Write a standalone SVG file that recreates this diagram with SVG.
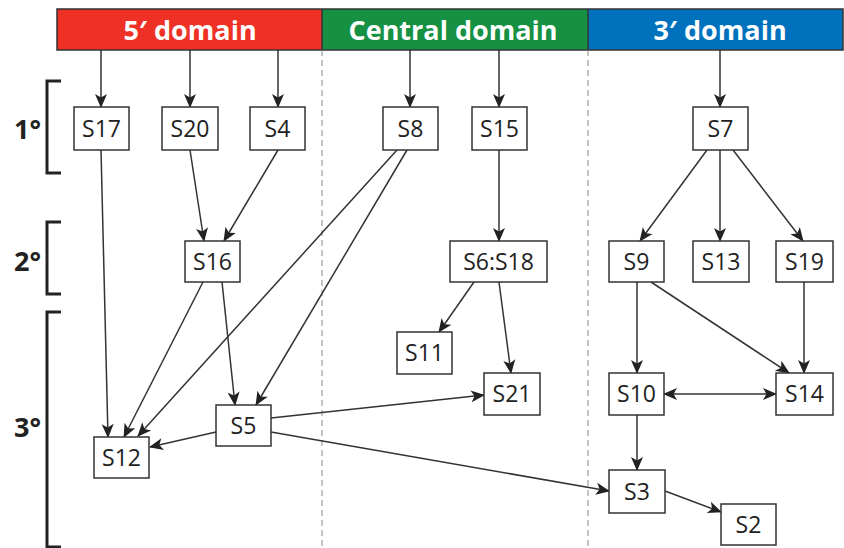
<svg xmlns="http://www.w3.org/2000/svg" width="844" height="548" viewBox="0 0 844 548">
<style>
.box{fill:#fff;stroke:#333;stroke-width:1.5}
.nt{font-family:"Open Sans","Liberation Sans",sans-serif;font-size:23px;fill:#222;text-anchor:middle}
.ht{font-family:"Open Sans","Liberation Sans",sans-serif;font-size:27px;font-weight:bold;fill:#fff;text-anchor:middle}
.lv{font-family:"Open Sans","Liberation Sans",sans-serif;font-size:27px;font-weight:bold;fill:#222}
.br{fill:none;stroke:#222;stroke-width:3}
.e{fill:none;stroke:#333;stroke-width:1.5;marker-end:url(#ah)}
.dash{stroke:#888;stroke-width:1;stroke-dasharray:6 4}
</style>
<defs>
<marker id="ah" markerUnits="userSpaceOnUse" viewBox="-16 -8 18 16" refX="0" refY="0" markerWidth="18" markerHeight="16" orient="auto-start-reverse">
<path d="M1,0 L-13,-6 L-9.5,0 L-13,6 Z" fill="#222"/>
</marker>
</defs>
<g id="header">
<rect x="57" y="9" width="265" height="41" fill="#ee3124"/>
<rect x="322" y="9" width="266" height="41" fill="#169043"/>
<rect x="588" y="9" width="255" height="41" fill="#0071bc"/>
<rect x="57" y="9" width="786" height="41" fill="none" stroke="#333" stroke-width="1.5"/>
<line x1="322" y1="9" x2="322" y2="50" stroke="#333" stroke-width="1.5"/>
<line x1="588" y1="9" x2="588" y2="50" stroke="#333" stroke-width="1.5"/>
<text class="ht" x="190" y="40">5′ domain</text>
<text class="ht" x="453" y="40">Central domain</text>
<text class="ht" x="720" y="40">3′ domain</text>
</g>
<g id="dividers">
<line class="dash" x1="322" y1="50" x2="322" y2="548"/>
<line class="dash" x1="588" y1="50" x2="588" y2="548"/>
</g>
<g id="levels">
<path class="br" d="M61,81 H47 V173 H61"/>
<path class="br" d="M61,222 H47 V294 H61"/>
<path class="br" d="M61,312 H47 V547 H61"/>
<text class="lv" x="14" y="139">1°</text>
<text class="lv" x="14" y="271">2°</text>
<text class="lv" x="14" y="437">3°</text>
</g>
<g id="connectors">
<line class="e" x1="101" y1="50" x2="101" y2="107"/>
<line class="e" x1="190" y1="50" x2="190" y2="107"/>
<line class="e" x1="278" y1="50" x2="278" y2="107"/>
<line class="e" x1="410" y1="50" x2="410" y2="107"/>
<line class="e" x1="499" y1="50" x2="499" y2="107"/>
<line class="e" x1="720" y1="50" x2="720" y2="107"/>
<line class="e" x1="101" y1="150" x2="108" y2="437"/>
<line class="e" x1="190" y1="150" x2="204" y2="241"/>
<line class="e" x1="278" y1="150" x2="224" y2="241"/>
<line class="e" x1="397" y1="150" x2="138" y2="436"/>
<line class="e" x1="407" y1="150" x2="256" y2="405"/>
<line class="e" x1="203" y1="282" x2="124" y2="437"/>
<line class="e" x1="222" y1="282" x2="235" y2="405"/>
<line class="e" x1="216" y1="432" x2="150" y2="447"/>
<line class="e" x1="271" y1="418" x2="484" y2="395"/>
<line class="e" x1="271" y1="432" x2="609" y2="491"/>
<line class="e" x1="499" y1="150" x2="499" y2="241"/>
<line class="e" x1="474" y1="282" x2="439" y2="332"/>
<line class="e" x1="499" y1="282" x2="511" y2="373"/>
<line class="e" x1="707" y1="150" x2="640" y2="241"/>
<line class="e" x1="720" y1="150" x2="720" y2="241"/>
<line class="e" x1="733" y1="150" x2="803" y2="241"/>
<line class="e" x1="637" y1="282" x2="637" y2="373"/>
<line class="e" x1="651" y1="282" x2="789" y2="373"/>
<line class="e" x1="804" y1="282" x2="804" y2="373"/>
<line class="e" x1="664" y1="394" x2="776" y2="394" marker-start="url(#ah)"/>
<line class="e" x1="637" y1="415" x2="637" y2="470"/>
<line class="e" x1="665" y1="491" x2="721" y2="512"/>
</g>
<g id="S17"><rect class="box" x="74" y="107" width="55" height="43"/><text class="nt" x="101.5" y="136.5">S17</text></g>
<g id="S20"><rect class="box" x="162" y="107" width="56" height="43"/><text class="nt" x="190" y="136.5">S20</text></g>
<g id="S4"><rect class="box" x="250" y="107" width="55" height="43"/><text class="nt" x="277.5" y="136.5">S4</text></g>
<g id="S8"><rect class="box" x="383" y="107" width="55" height="43"/><text class="nt" x="410.5" y="136.5">S8</text></g>
<g id="S15"><rect class="box" x="472" y="107" width="55" height="43"/><text class="nt" x="499.5" y="136.5">S15</text></g>
<g id="S7"><rect class="box" x="693" y="107" width="55" height="43"/><text class="nt" x="720.5" y="136.5">S7</text></g>
<g id="S16"><rect class="box" x="185" y="241" width="55" height="41"/><text class="nt" x="212.5" y="269.5">S16</text></g>
<g id="S6S18"><rect class="box" x="450" y="241" width="97" height="41"/><text class="nt" x="498.5" y="269.5">S6:S18</text></g>
<g id="S9"><rect class="box" x="609" y="241" width="55" height="41"/><text class="nt" x="636.5" y="269.5">S9</text></g>
<g id="S13"><rect class="box" x="693" y="241" width="56" height="41"/><text class="nt" x="721" y="269.5">S13</text></g>
<g id="S19"><rect class="box" x="776" y="241" width="57" height="41"/><text class="nt" x="804.5" y="269.5">S19</text></g>
<g id="S11"><rect class="box" x="397" y="332" width="55" height="42"/><text class="nt" x="424.5" y="361">S11</text></g>
<g id="S21"><rect class="box" x="484" y="373" width="56" height="42"/><text class="nt" x="512" y="402">S21</text></g>
<g id="S10"><rect class="box" x="609" y="373" width="55" height="42"/><text class="nt" x="636.5" y="402">S10</text></g>
<g id="S14"><rect class="box" x="776" y="373" width="57" height="42"/><text class="nt" x="804.5" y="402">S14</text></g>
<g id="S5"><rect class="box" x="216" y="405" width="55" height="41"/><text class="nt" x="243.5" y="433.5">S5</text></g>
<g id="S12"><rect class="box" x="94" y="437" width="55" height="41"/><text class="nt" x="121.5" y="465.5">S12</text></g>
<g id="S3"><rect class="box" x="609" y="470" width="56" height="43"/><text class="nt" x="637" y="499.5">S3</text></g>
<g id="S2"><rect class="box" x="721" y="504" width="55" height="41"/><text class="nt" x="748.5" y="532.5">S2</text></g>
</svg>
